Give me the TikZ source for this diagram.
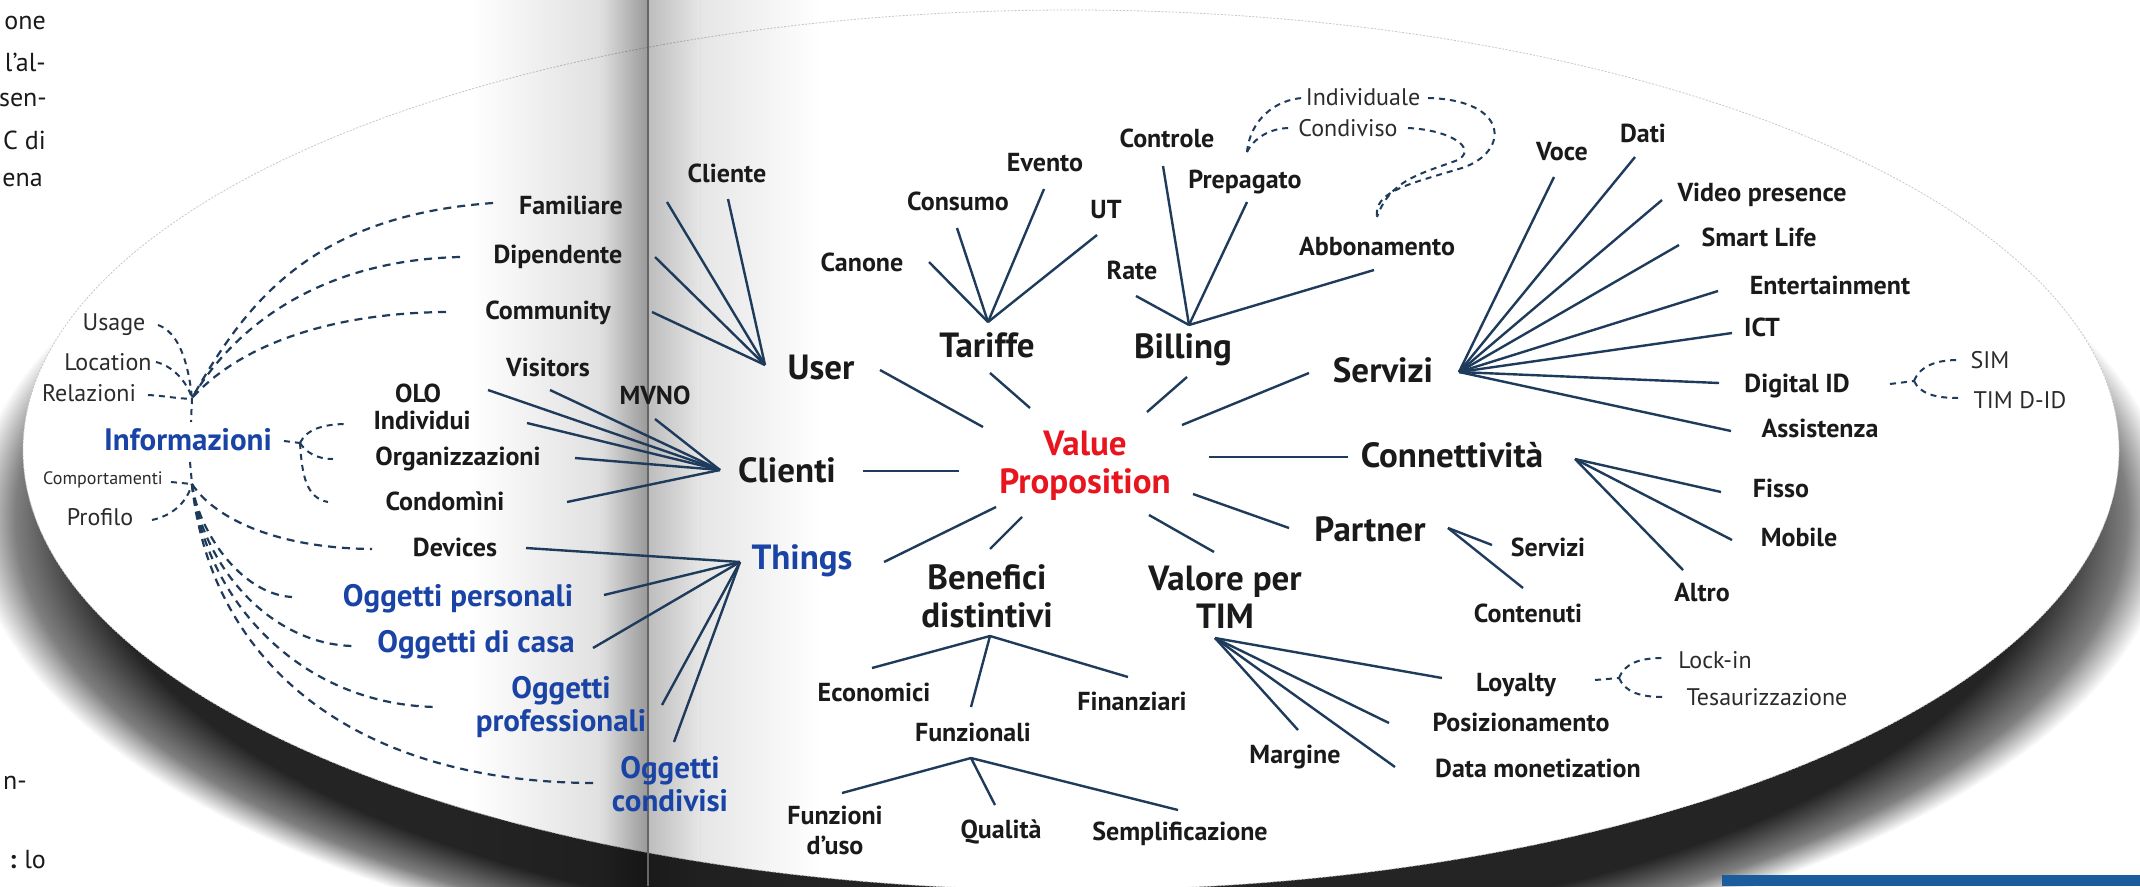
\documentclass[tikz,border=0pt]{standalone}
\usepackage{fontspec}
\setmainfont{PT Sans}
\usetikzlibrary{calc}
\definecolor{navy}{HTML}{1F3B5C}
\definecolor{txt}{HTML}{1A1A1A}
\definecolor{txtr}{HTML}{2B2B2B}
\definecolor{tblue}{HTML}{1A43A6}
\definecolor{vred}{HTML}{E8141E}
\definecolor{barblue}{HTML}{1B5C9C}
\pgfdeclareradialshading{ellshadow}{\pgfpoint{0bp}{0bp}}{color(0bp)=(black!86); color(22.4bp)=(black!86); color(24bp)=(black!50); color(25bp)=(white); color(50bp)=(white)}
\tikzset{
  lbl/.style={font=\fontsize{26}{30}\selectfont\bfseries, text=txt, inner sep=0pt, align=center},
  big/.style={font=\fontsize{35}{38}\selectfont\bfseries, text=txt, inner sep=0pt, align=center},
  blu/.style={font=\fontsize{31}{33}\selectfont\bfseries, text=tblue, inner sep=0pt, align=center},
  reg/.style={font=\fontsize{24}{26}\selectfont, text=txtr, inner sep=0pt},
  pg/.style={font=\fontsize{26}{28}\selectfont, text=txt, inner sep=0pt, anchor=east},
  ln/.style={navy, line width=2.4pt},
  dsh/.style={navy, line width=2.2pt, dash pattern=on 8pt off 6pt},
  sdsh/.style={navy, line width=2pt, dash pattern=on 6pt off 5pt},
}
\begin{document}
\begin{tikzpicture}[x=1pt,y=-1pt]
\useasboundingbox (0,0) rectangle (2140,886);
\fill[white] (0,0) rectangle (2140,886);
% ---------- shadow and ellipse
\shade[shading=ellshadow] (1071,518) ellipse [x radius=1100, y radius=470];
\fill[white] (1071,450) ellipse [x radius=1048, y radius=440];
\draw[black!22, line width=0.8pt, dash pattern=on 2pt off 1.5pt] (1071,450) ellipse [x radius=1048, y radius=440];
% ---------- gutter
\begin{scope}[blend mode=multiply]
\shade[left color=white, right color=black!12] (470,0) rectangle (600,886);
\shade[left color=black!12, right color=black!40] (600,0) rectangle (648,886);
\shade[left color=black!26, right color=black!10] (648,0) rectangle (700,886);
\shade[left color=black!10, right color=white] (700,0) rectangle (820,886);
\end{scope}
\draw[black!60, line width=1.2pt] (648,0) -- (648,886);
\fill[barblue] (1722,875) rectangle (2140,886);
% ---------- page text at left margin
\node[pg] (pg1) at (46,23) {one};
\node[pg] (pg2) at (46,62) {l’al-};
\node[pg] (pg3) at (47,100) {sen-};
\node[pg] (pg4) at (46,140) {C di};
\node[pg] (pg5) at (43,180) {ena};
\node[pg] (pg6) at (27,783) {n-};
\node[pg] (pg7) at (46,860) {{\bfseries :}\hspace{8pt}lo};
% ---------- nodes
\node[big, text=vred] (vp) at (1085,466) {Value\\Proposition};
\node[big] (user) at (821,367) {User};
\node[big] (tariffe) at (987,345) {Tariffe};
\node[big] (billing) at (1183,350) {Billing};
\node[big] (servizi) at (1383,370) {Servizi};
\node[big] (clienti) at (787,470) {Clienti};
\node[big] (connett) at (1452,455) {Connettività};
\node[big] (partner) at (1370,529) {Partner};
\node[big] (benefici) at (987,596) {Benefici\\distintivi};
\node[big] (valore) at (1225,597) {Valore per\\TIM};
\node[big, text=tblue] (things) at (802,561) {Things};

\node[lbl] (cliente) at (727,173) {Cliente};
\node[lbl] (familiare) at (571,205) {Familiare};
\node[lbl] (dipendente) at (558,257) {Dipendente};
\node[lbl] (community) at (548,313) {Community};
\node[lbl] (visitors) at (548,367) {Visitors};
\node[lbl] (olo) at (418,393) {OLO};
\node[lbl] (mvno) at (655,395) {MVNO};
\node[lbl] (individui) at (422,420) {Individui};
\node[lbl] (organizz) at (458,459) {Organizzazioni};
\node[lbl] (condomini) at (445,501) {Condomìni};
\node[lbl] (devices) at (455,547) {Devices};

\node[lbl] (canone) at (862,262) {Canone};
\node[lbl] (consumo) at (958,201) {Consumo};
\node[lbl] (evento) at (1045,163) {Evento};
\node[lbl] (ut) at (1106,210) {UT};
\node[lbl] (controle) at (1167,138) {Controle};
\node[lbl] (prepagato) at (1245,182) {Prepagato};
\node[lbl] (rate) at (1132,270) {Rate};
\node[lbl] (abbon) at (1377,247) {Abbonamento};

\node[lbl] (voce) at (1562,152) {Voce};
\node[lbl] (dati) at (1643,133) {Dati};
\node[lbl] (video) at (1762,195) {Video presence};
\node[lbl] (smart) at (1759,237) {Smart Life};
\node[lbl] (entert) at (1830,285) {Entertainment};
\node[lbl] (ict) at (1762,327) {ICT};
\node[lbl] (digital) at (1797,386) {Digital ID};
\node[lbl] (assist) at (1820,428) {Assistenza};

\node[lbl] (fisso) at (1781,488) {Fisso};
\node[lbl] (mobile) at (1799,537) {Mobile};
\node[lbl] (altro) at (1702,593) {Altro};
\node[lbl] (servizi2) at (1548,547) {Servizi};
\node[lbl] (contenuti) at (1528,613) {Contenuti};
\node[lbl] (loyalty) at (1516,685) {Loyalty};
\node[lbl] (posiz) at (1521,722) {Posizionamento};
\node[lbl] (datamon) at (1538,768) {Data monetization};
\node[lbl] (margine) at (1295,757) {Margine};

\node[lbl] (economici) at (874,692) {Economici};
\node[lbl] (finanziari) at (1132,701) {Finanziari};
\node[lbl] (funzionali) at (973,732) {Funzionali};
\node[lbl] (funzioni) at (835,830) {Funzioni\\d’uso};
\node[lbl] (qualita) at (1001,832) {Qualità};
\node[lbl] (sempl) at (1180,834) {Semplificazione};

\node[reg] (individuale) at (1363,97) {Individuale};
\node[reg] (condiviso) at (1348,128) {Condiviso};
\node[reg] (sim) at (1990,360) {SIM};
\node[reg] (timdid) at (2020,400) {TIM D-ID};
\node[reg] (lockin) at (1715,660) {Lock-in};
\node[reg] (tesaur) at (1767,697) {Tesaurizzazione};
\node[reg] (usage) at (114,325) {Usage};
\node[reg] (location) at (108,362) {Location};
\node[reg] (relazioni) at (89,393) {Relazioni};
\node[reg, font=\fontsize{18}{20}\selectfont] (comport) at (103,480) {Comportamenti};
\node[reg] (profilo) at (100,517) {Profilo};

\node[blu] (informazioni) at (188,440) {Informazioni};
\node[blu] (oggpers) at (458,599) {Oggetti personali};
\node[blu] (oggcasa) at (476,645) {Oggetti di casa};
\node[blu] (oggprof) at (561,707) {Oggetti\\professionali};
\node[blu] (oggcond) at (670,784) {Oggetti\\condivisi};

% ---------- connector end points
\coordinate (u1) at (880,370);   \coordinate (u2) at (983,427);
\coordinate (t1) at (990,373);   \coordinate (t2) at (1030,408);
\coordinate (b1) at (1187,377);  \coordinate (b2) at (1147,412);
\coordinate (s1) at (1309,373);  \coordinate (s2) at (1182,425);
\coordinate (c1) at (863,471);   \coordinate (c2) at (959,471);
\coordinate (k1) at (1209,457);  \coordinate (k2) at (1348,457);
\coordinate (p1) at (1193,494);  \coordinate (p2) at (1289,528);
\coordinate (th1) at (996,507);  \coordinate (th2) at (884,562);
\coordinate (bn1) at (1022,517); \coordinate (bn2) at (990,549);
\coordinate (vl1) at (1149,515); \coordinate (vl2) at (1214,552);

\coordinate (uhub) at (765,365);
\coordinate (e-cliente) at (728,199);
\coordinate (e-fam) at (667,202);
\coordinate (e-dip) at (655,257);
\coordinate (e-com) at (652,312);
\coordinate (chub) at (720,470);
\coordinate (e-olo) at (488,390);
\coordinate (e-vis) at (550,390);
\coordinate (e-mvno) at (655,419);
\coordinate (e-ind) at (527,423);
\coordinate (e-org) at (575,458);
\coordinate (e-con) at (567,502);
\coordinate (thhub) at (740,562);
\coordinate (e-dev) at (526,548);
\coordinate (e-ope) at (604,595);
\coordinate (e-oca) at (593,648);
\coordinate (e-opr) at (662,705);
\coordinate (e-oco) at (674,742);
\coordinate (thub) at (988,322);
\coordinate (e-can) at (929,262);
\coordinate (e-cons) at (957,228);
\coordinate (e-ev) at (1044,189);
\coordinate (e-ut) at (1097,235);
\coordinate (bhub) at (1189,325);
\coordinate (e-rate) at (1136,296);
\coordinate (e-ctrl) at (1163,166);
\coordinate (e-prep) at (1247,202);
\coordinate (e-abb) at (1374,270);
\coordinate (shub) at (1459,372);
\coordinate (e-voce) at (1554,177);
\coordinate (e-dati) at (1635,157);
\coordinate (e-video) at (1662,200);
\coordinate (e-smart) at (1679,245);
\coordinate (e-ent) at (1718,291);
\coordinate (e-ict) at (1732,333);
\coordinate (e-did) at (1719,383);
\coordinate (e-ass) at (1731,431);
\coordinate (khub) at (1575,459);
\coordinate (e-fis) at (1721,492);
\coordinate (e-mob) at (1732,540);
\coordinate (e-alt) at (1683,570);
\coordinate (phub) at (1448,528);
\coordinate (e-ser2) at (1492,545);
\coordinate (e-cont) at (1523,588);
\coordinate (vhub) at (1215,638);
\coordinate (e-loy) at (1442,678);
\coordinate (e-pos) at (1389,723);
\coordinate (e-dm) at (1395,767);
\coordinate (e-mar) at (1298,730);
\coordinate (bnhub) at (990,636);
\coordinate (e-eco) at (872,668);
\coordinate (e-fun) at (971,707);
\coordinate (e-fin) at (1128,677);
\coordinate (fhub) at (971,758);
\coordinate (e-fdu) at (842,793);
\coordinate (e-qua) at (995,805);
\coordinate (e-sem) at (1178,810);

% ---------- solid connectors
\foreach \a/\b in {u1/u2,t1/t2,b1/b2,s1/s2,c1/c2,k1/k2,p1/p2,th1/th2,bn1/bn2,vl1/vl2}
  \draw[ln] (\a) -- (\b);
\foreach \e in {e-cliente,e-fam,e-dip,e-com} \draw[ln] (uhub) -- (\e);
\foreach \e in {e-olo,e-vis,e-mvno,e-ind,e-org,e-con} \draw[ln] (chub) -- (\e);
\foreach \e in {e-dev,e-ope,e-oca,e-opr,e-oco} \draw[ln] (thhub) -- (\e);
\foreach \e in {e-can,e-cons,e-ev,e-ut} \draw[ln] (thub) -- (\e);
\foreach \e in {e-rate,e-ctrl,e-prep,e-abb} \draw[ln] (bhub) -- (\e);
\foreach \e in {e-voce,e-dati,e-video,e-smart,e-ent,e-ict,e-did,e-ass} \draw[ln] (shub) -- (\e);
\foreach \e in {e-fis,e-mob,e-alt} \draw[ln] (khub) -- (\e);
\foreach \e in {e-ser2,e-cont} \draw[ln] (phub) -- (\e);
\foreach \e in {e-loy,e-pos,e-dm,e-mar} \draw[ln] (vhub) -- (\e);
\foreach \e in {e-eco,e-fun,e-fin} \draw[ln] (bnhub) -- (\e);
\foreach \e in {e-fdu,e-qua,e-sem} \draw[ln] (fhub) -- (\e);

% ---------- dashed connectors around Informazioni
\coordinate (itop) at (192,398);
\coordinate (itip) at (191,422);
\coordinate (itick) at (190,462);
\coordinate (ibot) at (192,484);
\coordinate (d-us) at (158,325);
\coordinate (d-loc) at (156,362);
\coordinate (d-rel) at (148,395);
\coordinate (d-fam) at (493,203);
\coordinate (d-dip) at (460,257);
\coordinate (d-com) at (446,312);
\coordinate (d-cmp) at (171,482);
\coordinate (d-pro) at (152,520);
\coordinate (d-dev) at (372,549);
\coordinate (d-ope) at (292,597);
\coordinate (d-oca) at (354,646);
\coordinate (d-opr) at (437,707);
\coordinate (d-oco) at (593,783);
\coordinate (d-inf) at (284,441);
\coordinate (ifork) at (300,443);
\coordinate (d-ind) at (347,424);
\coordinate (d-org) at (333,459);
\coordinate (d-cnd) at (328,502);

\draw[sdsh] (d-us) .. controls (178,332) and (188,360) .. (itop);
\draw[sdsh] (d-loc) .. controls (172,366) and (186,380) .. (itop);
\draw[sdsh] (d-rel) .. controls (168,396) and (184,400) .. (itop);
\draw[sdsh] (itop) -- (itip);
\draw[dsh] (d-fam) .. controls (309,216) and (245,305) .. (itop);
\draw[dsh] (d-dip) .. controls (330,260) and (240,318) .. (itop);
\draw[dsh] (d-com) .. controls (330,313) and (240,345) .. (itop);

\draw[sdsh] (itick) -- (ibot);
\draw[sdsh] (d-cmp) -- (ibot);
\draw[sdsh] (d-pro) .. controls (170,516) and (186,505) .. (ibot);
\draw[dsh] (ibot) .. controls (212,515) and (270,548) .. (d-dev);
\draw[dsh] (ibot) .. controls (198,530) and (240,594) .. (d-ope);
\draw[dsh] (ibot) .. controls (202,565) and (270,645) .. (d-oca);
\draw[dsh] (ibot) .. controls (205,600) and (300,705) .. (d-opr);
\draw[dsh] (ibot) .. controls (210,660) and (350,782) .. (d-oco);

\draw[sdsh] (d-inf) -- (ifork);
\draw[sdsh] (ifork) .. controls (306,430) and (322,424) .. (d-ind);
\draw[sdsh] (ifork) .. controls (306,452) and (316,459) .. (d-org);
\draw[sdsh] (ifork) .. controls (302,475) and (306,498) .. (d-cnd);

% ---------- dashed connectors Individuale / Condiviso
\coordinate (ctr-d) at (1247,152);
\coordinate (d-indl) at (1302,98);
\coordinate (d-cdvl) at (1290,128);
\coordinate (d-indr) at (1428,98);
\coordinate (d-cdvr) at (1408,128);
\coordinate (abb-d) at (1377,217);
\draw[sdsh] (ctr-d) .. controls (1250,120) and (1275,100) .. (d-indl);
\draw[sdsh] (ctr-d) .. controls (1254,138) and (1270,128) .. (d-cdvl);
\draw[sdsh] (d-indr) .. controls (1510,100) and (1510,152) .. (1462,168) .. controls (1405,185) and (1374,192) .. (abb-d);
\draw[sdsh] (d-cdvr) .. controls (1450,130) and (1478,148) .. (1458,160) .. controls (1420,174) and (1390,180) .. (abb-d);

% ---------- dashed forks Digital ID and Loyalty
\coordinate (d-did) at (1890,384);
\coordinate (dfork) at (1914,381);
\coordinate (d-sim) at (1958,360);
\coordinate (d-tim) at (1958,398);
\draw[sdsh] (d-did) -- (dfork);
\draw[sdsh] (dfork) .. controls (1920,366) and (1936,360) .. (d-sim);
\draw[sdsh] (dfork) .. controls (1920,394) and (1936,398) .. (d-tim);

\coordinate (d-loy) at (1595,680);
\coordinate (lfork) at (1619,678);
\coordinate (d-lock) at (1663,658);
\coordinate (d-tes) at (1663,697);
\draw[sdsh] (d-loy) -- (lfork);
\draw[sdsh] (lfork) .. controls (1625,663) and (1640,658) .. (d-lock);
\draw[sdsh] (lfork) .. controls (1625,692) and (1640,697) .. (d-tes);
\end{tikzpicture}
\end{document}
